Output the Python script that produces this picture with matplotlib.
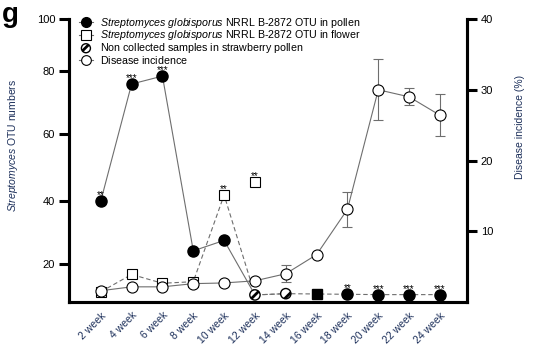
import numpy as np
import matplotlib.pyplot as plt

plt.rcParams['font.family'] = ['Liberation Sans', 'DejaVu Sans']
plt.rcParams['mathtext.fontset'] = 'custom'
plt.rcParams['mathtext.it'] = 'Liberation Sans:italic'
plt.rcParams['mathtext.rm'] = 'Liberation Sans'
plt.rcParams['hatch.linewidth'] = 2.0

# Datos
semanas = ['2 week', '4 week', '6 week', '8 week', '10 week', '12 week',
           '14 week', '16 week', '18 week', '20 week', '22 week', '24 week']
nan = np.nan
otu_polen = [40, 75.8, 78.3, 24.2, 27.5, nan, nan, nan, 10.4, 10.3, 10.3, 10.3]
otu_flor = [11.2, 16.7, 13.9, 14.4, 41.8, 45.7, nan, 10.5, nan, nan, nan, nan]
flor_llena = [False] * 7 + [True] + [False] * 4
no_recogido = [nan, nan, nan, nan, nan, 10.2, 10.6, nan, nan, nan, nan, nan]
incidencia = [1.6, 2.15, 2.15, 2.6, 2.7, 3.0, 4.0, 6.7, 13.1, 30.0, 29.0, 26.4]
incidencia_err = [0, 0, 0, 0, 0.4, 0, 1.2, 0, 2.5, 4.3, 1.2, 3.0]
estrellas_polen = ['**', '***', '***', '', '', '', '', '', '**', '***', '***', '***']
estrellas_flor = ['', '', '', '', '**', '**', '', '', '', '', '', '']

# El eje izquierdo original no es lineal: escala por tramos
marcas_eje = [0, 20, 40, 60, 80, 100, 120]
posicion_eje = [0, 63, 126, 193, 256.3, 308, 359.7]


def adelante(v):
    return np.interp(v, marcas_eje, posicion_eje)


def atras(u):
    return np.interp(u, posicion_eje, marcas_eje)


x = np.arange(len(semanas))
gris = '#6e6e6e'
azul = '#1c2f5a'

fig = plt.figure(figsize=(5.33, 3.5), dpi=100)
ax = fig.add_axes([0.1295, 0.137, 0.7465, 0.8087])
ax2 = ax.twinx()

ax.set_yscale('function', functions=(adelante, atras))

polen = np.array(otu_polen, dtype=float)
flor = np.array(otu_flor, dtype=float)
nc = np.array(no_recogido, dtype=float)

# lineas de union
linea_polen = np.where(np.isnan(nc), polen, nc)
linea_flor = np.where(np.isnan(nc), flor, nc)
ax.plot(x[:6], linea_polen[:6], color=gris, lw=0.8, zorder=2)
ax.plot(x[:7], linea_flor[:7], color=gris, lw=0.8, ls=(0, (4, 2.5)), zorder=2)
fondo = np.nanmin(np.vstack([polen, flor, nc]), axis=0)
ax.plot(x[5:], fondo[5:], color=gris, lw=0.8, ls=(0, (4, 2.5)), zorder=2)

# marcadores
ax.plot(x, polen, ls='none', marker='o', ms=8, mfc='black', mec='black',
        zorder=4)
mascara = np.array(flor_llena)
ax.plot(x[~mascara], flor[~mascara], ls='none', marker='s', ms=7.5, mfc='white',
        mec='black', mew=0.8, zorder=3)
ax.plot(x[mascara], flor[mascara], ls='none', marker='s', ms=7.5, mfc='black',
        mec='black', zorder=3)
ax.scatter(x, nc, marker='o', s=55, facecolor='white', edgecolor='black',
           hatch='//', linewidth=1.0, zorder=4)

for i in range(len(semanas)):
    if estrellas_polen[i]:
        ax.annotate(estrellas_polen[i], (x[i], polen[i]), xytext=(0, 2),
                    textcoords='offset points', ha='center', va='baseline',
                    fontsize=7)
    if estrellas_flor[i]:
        ax.annotate(estrellas_flor[i], (x[i], flor[i]), xytext=(0, 2),
                    textcoords='offset points', ha='center', va='baseline',
                    fontsize=7)

# incidencia de enfermedad (eje derecho)
ax2.errorbar(x, incidencia, yerr=incidencia_err, color=gris, lw=0.8,
             elinewidth=0.8, capsize=3.5, capthick=0.8, marker='o', ms=8,
             mfc='white', mec='black', mew=0.8, zorder=3)

ax.set_xlim(-1.03, 11.875)
ax.set_ylim(7.94, 100)
ax.set_yticks([20, 40, 60, 80, 100])
ax.minorticks_off()
ax2.set_ylim(0, 40)
ax2.set_yticks([10, 20, 30, 40])

ax.set_xticks(x)
ax.set_xticklabels(semanas, rotation=45, ha='right', va='top',
                   rotation_mode='anchor', fontsize=7.5, color=azul)
ax.tick_params(axis='x', length=0, pad=6)
ax.tick_params(axis='y', width=2.2, length=7, labelsize=8, pad=3)
ax2.tick_params(axis='y', width=2.2, length=7, labelsize=8, pad=3)

for a in (ax, ax2):
    a.spines['top'].set_visible(False)
    for lado in ('left', 'right', 'bottom'):
        a.spines[lado].set_linewidth(2.2)

ax.set_ylabel(r'$\it{Streptomyces}$ OTU numbers', fontsize=7.5, color=azul)
ax.yaxis.set_label_coords(-0.123, 0.555)
ax2.set_ylabel('Disease incidence (%)', fontsize=7.5, color=azul)
ax2.yaxis.set_label_coords(1.12, 0.62)

# leyenda (todas las etiquetas en mathtext para igualar la altura de fila)
h1, = ax.plot([], [], color=gris, lw=0.8, marker='o', ms=7, mfc='black',
              mec='black')
h2, = ax.plot([], [], color=gris, lw=0.8, marker='s', ms=6.5, mfc='white',
              mec='black', mew=0.8)
h3 = ax.scatter([], [], marker='o', s=42, facecolor='white',
                edgecolor='black', hatch='//', linewidth=1.0)
h4, = ax.plot([], [], color=gris, lw=0.8, marker='o', ms=7, mfc='white',
              mec='black', mew=0.8)
ax.legend([h1, h2, h3, h4],
          [r'$\it{Streptomyces\ globisporus}$ NRRL B-2872 OTU in pollen',
           r'$\it{Streptomyces\ globisporus}$ NRRL B-2872 OTU in flower',
           r'$\mathrm{Non\ collected\ samples\ in\ strawberry\ pollen}$',
           r'$\mathrm{Disease\ incidence}$'],
          loc='upper left', bbox_to_anchor=(0.025, 1.012), frameon=False,
          fontsize=7.7, handlelength=1.3, handletextpad=0.7,
          labelspacing=-0.12, borderpad=0, borderaxespad=0)

fig.text(0.004, 0.995, 'g', fontsize=20, fontweight='bold', va='top',
         ha='left')

plt.savefig('out.png', dpi=100)
plt.close()
